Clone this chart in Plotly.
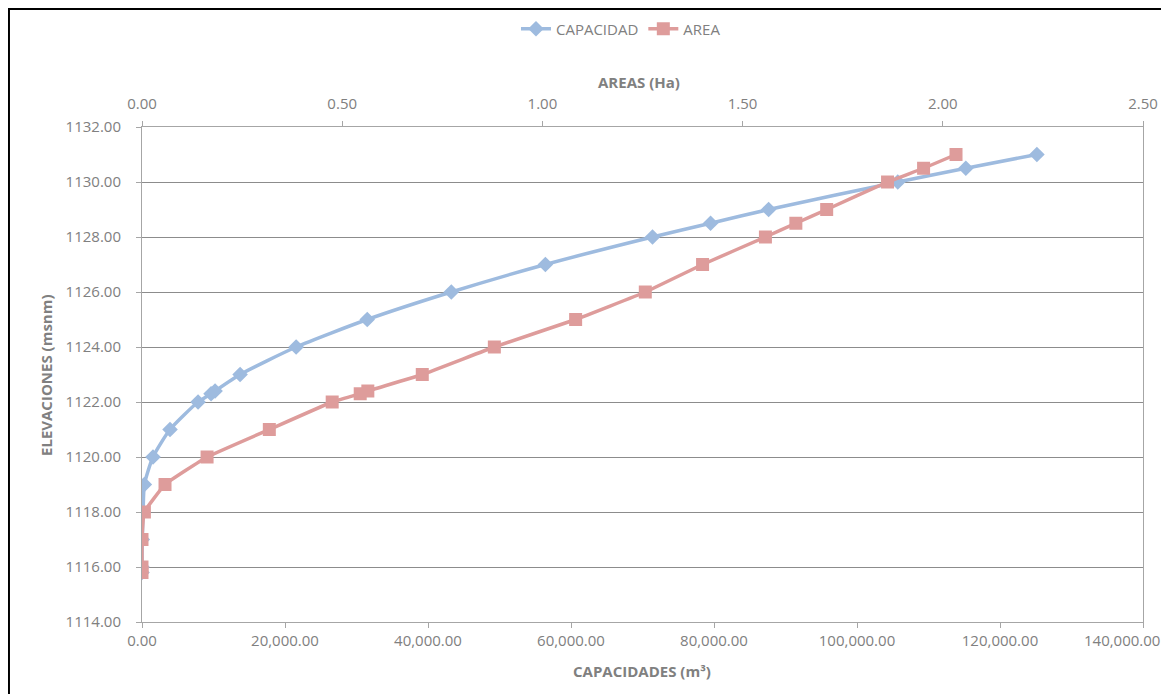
import plotly.graph_objects as go

# ---- data ----
elevaciones = [1115.8, 1116, 1117, 1118, 1119, 1120, 1121, 1122, 1122.3, 1122.4, 1123,
               1124, 1125, 1126, 1127, 1128, 1128.5, 1129, 1130, 1130.5, 1131]
capacidad_m3 = [0, 0, 40, 160, 330, 1540, 3920, 7840, 9660, 10220, 13720,
                21560, 31500, 43260, 56420, 71400, 79520, 87640, 105700, 115220, 125160]
area_ha = [0, 0, 0.0, 0.006, 0.0575, 0.1625, 0.318, 0.475, 0.545, 0.564, 0.70,
           0.88, 1.083, 1.257, 1.40, 1.557, 1.633, 1.71, 1.862, 1.952, 2.033]

cap_ticks = [0, 20000, 40000, 60000, 80000, 100000, 120000, 140000]
area_ticks = [0, 0.5, 1.0, 1.5, 2.0, 2.5]
elev_ticks = [1114, 1116, 1118, 1120, 1122, 1124, 1126, 1128, 1130, 1132]

BLUE = "#9EBBDF"
RED = "#DE9C9B"
GRAY_TXT = "#808080"
GRID = "#8C8C8C"
AXIS = "#A6A6A6"
FONT = "Open Sans"

cap_labels = [f"{v:,.2f}" for v in cap_ticks]
# last label is shifted inward (as in the reference) via an annotation
cap_ticktext = cap_labels[:-1] + [""]

fig = go.Figure()

fig.add_trace(go.Scatter(
    x=capacidad_m3, y=elevaciones, name="CAPACIDAD", xaxis="x", yaxis="y",
    mode="lines+markers",
    line=dict(color=BLUE, width=3.5, shape="spline", smoothing=0.6),
    marker=dict(symbol="diamond", size=12, color=BLUE),
))
fig.add_trace(go.Scatter(
    x=area_ha, y=elevaciones, name="AREA", xaxis="x2", yaxis="y",
    mode="lines+markers",
    line=dict(color=RED, width=3.5, shape="spline", smoothing=0.3),
    marker=dict(symbol="square", size=13, color=RED),
))

tickfont = dict(family=FONT, size=15, color=GRAY_TXT)

# the page adds an 8px body margin, so the figure is sized 8px smaller
fig.update_layout(
    width=1161, height=686,
    margin=dict(l=134, r=26, t=119, b=72, autoexpand=False),
    paper_bgcolor="white", plot_bgcolor="white",
    font=dict(family=FONT, color=GRAY_TXT),
    showlegend=True,
    legend=dict(orientation="h", x=0.4785, xanchor="center", y=1.198, yanchor="middle",
                font=dict(family=FONT, size=15, color=GRAY_TXT),
                itemwidth=30, bgcolor="rgba(0,0,0,0)"),
    xaxis=dict(range=[0, 140000], tickvals=cap_ticks, ticktext=cap_ticktext, automargin=False,
               showgrid=False, zeroline=False, showline=True, linecolor=AXIS, linewidth=1,
               ticks="outside", ticklen=5, tickcolor=AXIS, tickfont=tickfont),
    xaxis2=dict(range=[0, 2.5], tickvals=area_ticks, tickformat=".2f", automargin=False,
                overlaying="x", side="top", anchor="y", ticklabelstandoff=6,
                showgrid=False, zeroline=False, showline=True, linecolor=AXIS, linewidth=1,
                ticks="outside", ticklen=5, tickcolor=AXIS, tickfont=tickfont),
    yaxis=dict(range=[1114, 1132], tickvals=elev_ticks, tickformat=".2f", automargin=False,
               showgrid=True, gridcolor=GRID, gridwidth=1, zeroline=False,
               showline=True, linecolor=AXIS, linewidth=1, mirror=True, ticklabelstandoff=12,
               ticks="outside", ticklen=5, tickcolor=AXIS, tickfont=tickfont),
)

fig.add_annotation(text=cap_labels[-1], xref="x", yref="paper", x=cap_ticks[-1], y=0,
                   xanchor="center", yanchor="middle", xshift=-21, yshift=-18,
                   showarrow=False, font=tickfont)

title_font = dict(family=FONT, size=15, color=GRAY_TXT)
fig.add_annotation(text="<b>AREAS (Ha)</b>", xref="paper", yref="paper",
                   x=0.4965, y=1.091, showarrow=False, font=title_font,
                   xanchor="center", yanchor="middle")
fig.add_annotation(text="<b>CAPACIDADES (m³)</b>", xref="paper", yref="paper",
                   x=0.4995, y=-0.099, showarrow=False, font=title_font,
                   xanchor="center", yanchor="middle")
fig.add_annotation(text="<b>ELEVACIONES (msnm)</b>", xref="paper", yref="paper",
                   x=-0.0959, y=0.499, showarrow=False, font=title_font, textangle=-90,
                   xanchor="center", yanchor="middle")

# black frame of the chart box (left & top edges visible)
fig.add_shape(type="rect", xref="paper", yref="paper",
              x0=-0.1329, x1=1.2, y0=-0.3, y1=1.2384,
              line=dict(color="black", width=2), fillcolor="rgba(0,0,0,0)", layer="below")

fig.write_html("out.html")
